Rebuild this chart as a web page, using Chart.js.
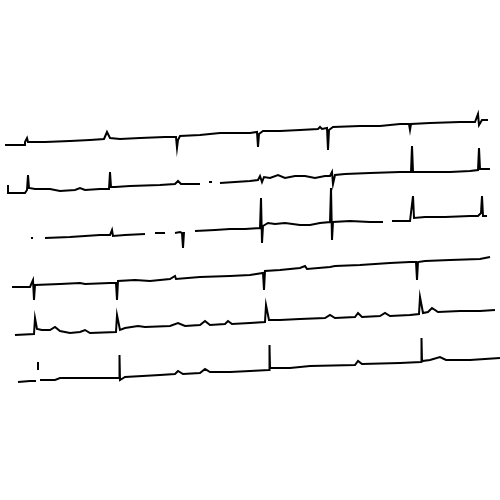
<!DOCTYPE html>
<html>
<head>
<meta charset="utf-8">
<script src="https://cdn.jsdelivr.net/npm/chart.js@4"></script>
<style>
  html, body { margin: 0; padding: 0; background: #fff; }
</style>
</head>
<body>
<canvas id="ecg" width="500" height="500"></canvas>
<script>
// six scanned ECG strips, samples as [time, level]
// level grows downward (y axis reversed), null = gap in the trace
var lead1 = [[5,145],[25,145],[25,142],[27,138],[28,142],[45,142],[70,141],[90,140],[104,139],[107,132],
  [110,138],[120,139],[140,138],[165,137],[176,137],[177,148],[178,140],[180,136],[200,135],[220,133],
  [250,133],[257,132],[258,147],[259,134],[263,131],[280,131],[300,130],[318,129],[320,127],[322,129],
  [327,128],[328,150],[329,130],[333,127],[360,126],[380,126],[400,124],[409,124],[410,130],[411,124],
  [430,123],[460,122],[475,122],[478,114],[479,125],[482,120],[488,120]];

var lead2 = [[8,185],[8,193],[25,193],[27,190],[28,175],[29,188],[35,189],[50,189],[60,191],[75,190],
  [80,188],[85,190],[100,189],[109,189],[110,172],[111,187],[115,187],[130,186],[160,185],[175,184],
  [178,181],[181,184],[200,184],[205,null],[209,182],[212,182],[216,null],[220,183],[250,181],[258,180],
  [260,176],[262,182],[264,177],[270,178],[278,175],[285,178],[295,176],[305,176],[315,178],[325,176],
  [330,176],[332,172],[333,184],[335,175],[345,174],[370,173],[400,172],[411,172],[412,146],[413,172],
  [430,172],[450,172],[470,171],[478,170],[479,148],[480,169],[490,169]];

var lead3 = [[31,238],[33,238],[38,null],[45,238],[70,237],[100,235],[110,235],[112,230],[113,236],[125,235],
  [145,234],[150,null],[155,233],[165,233],[170,null],[175,233],[180,232],[182,233],[183,248],[184,232],
  [188,null],[195,231],[215,230],[230,229],[245,229],[260,228],[261,198],[262,243],[263,226],[268,223],
  [275,224],[285,223],[300,225],[310,225],[320,223],[330,222],[331,188],[332,240],[333,222],[350,221],
  [370,222],[383,222],[387,null],[392,221],[410,221],[413,196],[414,218],[425,217],[445,217],[470,216],
  [478,216],[481,213],[482,196],[483,216],[487,216]];

var lead4 = [[12,287],[30,287],[33,280],[34,300],[35,285],[60,284],[80,283],[85,284],[110,283],[116,283],
  [117,300],[118,281],[135,280],[150,281],[170,279],[175,276],[176,279],[200,277],[230,276],[250,275],
  [263,273],[264,290],[265,271],[280,270],[300,268],[305,266],[307,269],[330,267],[335,266],[360,265],
  [390,263],[410,262],[416,262],[417,280],[418,262],[425,261],[450,260],[480,259],[490,257]];

var lead5 = [[15,335],[34,334],[35,318],[37,329],[42,330],[50,330],[55,327],[60,331],[70,333],[80,332],
  [85,330],[90,333],[116,332],[117,315],[120,330],[125,328],[138,326],[145,327],[170,326],[178,323],
  [185,326],[200,325],[205,321],[210,325],[225,324],[228,321],[232,324],[250,323],[265,322],[266,305],
  [269,320],[280,320],[300,319],[325,318],[330,315],[335,318],[355,317],[358,313],[362,317],[380,316],
  [385,313],[390,316],[410,315],[419,314],[420,297],[423,313],[428,312],[432,308],[438,312],[460,311],
  [480,311],[495,310]];

var lead6 = [[18,382],[30,381],[36,381],[37,null],[38,362],[38,370],[39,null],[40,380],[55,380],[60,378],
  [100,378],[119,378],[119.5,355],[120,380],[125,377],[160,375],[175,374],[178,371],[183,374],[200,373],
  [205,369],[210,372],[230,372],[250,371],[269,370],[269.5,345],[270,368],[290,368],[310,366],[355,365],
  [358,361],[362,364],[400,363],[421,362],[421.5,338],[422,361],[430,360],[440,357],[446,360],[470,360],
  [485,359],[500,358]];

var leads = [lead1, lead2, lead3, lead4, lead5, lead6];

function toPoints(rows) {
  return rows.map(function (r) { return { x: r[0], y: r[1] }; });
}

new Chart("ecg", {
  type: "line",
  data: {
    datasets: leads.map(function (l) {
      return {
        data: toPoints(l),
        borderColor: "#000",
        borderWidth: 2,
        pointRadius: 0,
        tension: 0,
        spanGaps: false
      };
    })
  },
  options: {
    responsive: false,
    animation: false,
    layout: { padding: 0 },
    plugins: { legend: { display: false }, tooltip: { enabled: false } },
    scales: {
      x: { type: "linear", min: 0, max: 500, display: false },
      y: { min: 0, max: 500, reverse: true, display: false }
    }
  }
});
</script>
</body>
</html>
